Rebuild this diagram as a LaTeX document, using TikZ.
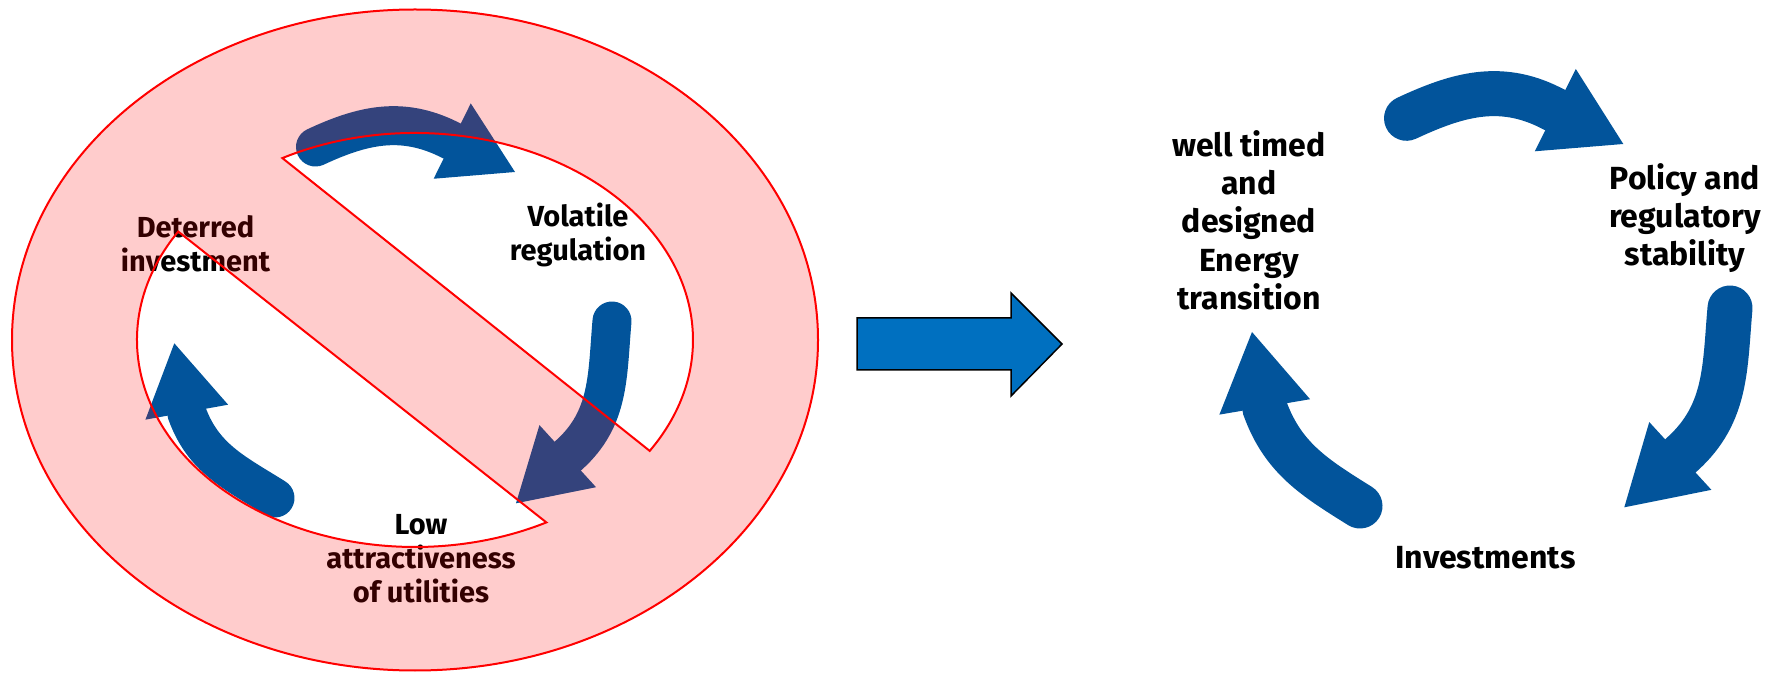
\documentclass[tikz,border=0pt]{standalone}
\usepackage{fontspec}
\setmainfont{Fira Sans}
\usetikzlibrary{arrows.meta}
\definecolor{cycblue}{RGB}{2,84,155}
\definecolor{bigblue}{RGB}{0,112,192}

\begin{document}
\begin{tikzpicture}[x=1pt,y=1pt,line cap=round,
        small/.style={font=\bfseries\fontsize{29}{34}\selectfont,align=center,inner sep=0pt},
        big/.style={font=\bfseries\fontsize{32}{38.3}\selectfont,align=center,inner sep=0pt},
        loopa/.style={color=cycblue,line width=39pt,-{Triangle[length=70pt,width=84pt,line width=0pt]}},
        loopb/.style={color=cycblue,line width=45pt,-{Triangle[length=76pt,width=92pt,line width=0pt]}}]

  \useasboundingbox (0,0) rectangle (1775,675);

  % left: the old cycle
  \node[small] (det) at (195.5,431.7) {Deterred\\investment};
  \node[small] (vol) at (578,440) {Volatile\\regulation};
  \node[small] (low) at (421,116) {Low\\attractiveness\\of utilities};

  \coordinate (d0) at (315.5,528);
  \coordinate (dm) at (448,536);
  \coordinate (d1) at (515,503);
  \coordinate (v0) at (612,354);
  \coordinate (vm) at (569,220);
  \coordinate (v1) at (516,171.7);
  \coordinate (l0) at (275,177);
  \coordinate (lm) at (187,261.5);
  \coordinate (l1) at (174.3,331.7);

  \draw[loopa] (d0) to [out=25,in=154] (dm) -- (d1);
  \draw[loopa] (v0) to [out=-95,in=42] (vm) -- (v1);
  \draw[loopa] (l0) to [out=148,in=-70] (lm) -- (l1);

  % the "no" sign over it
  \path[draw=red,line width=2pt,fill=red,fill opacity=0.2,even odd rule]
    (415,335) ellipse [x radius=403,y radius=330.5]
    (415,335) ++(118.5:278 and 207)
      arc [start angle=118.5,end angle=-32.4,x radius=278,y radius=207] -- cycle
    (415,335) ++(148.4:278 and 207)
      arc [start angle=148.4,end angle=298.2,x radius=278,y radius=207] -- cycle;

  % big arrow
  \draw[fill=bigblue,line width=1.5pt,line join=miter]
    (857,305) -- (1011,305) -- (1011,279) -- (1062,331)
    -- (1011,382) -- (1011,357) -- (857,357) -- cycle;

  % right: the new cycle
  \node[big] (ene) at (1249,455) {well timed\\and\\designed\\Energy\\transition};
  \node[big] (pol) at (1685,457) {Policy and\\regulatory\\stability};
  \node[big] (inv) at (1485.5,117.5) {Investments};

  \coordinate (e0) at (1406.5,556.7);
  \coordinate (em) at (1550,567.5);
  \coordinate (e1) at (1623.3,531);
  \coordinate (p0) at (1730,367);
  \coordinate (pm) at (1683,221.5);
  \coordinate (p1) at (1624.3,167.7);
  \coordinate (i0) at (1360,169);
  \coordinate (im) at (1265,266.5);
  \coordinate (i1) at (1252,343);

  \draw[loopb] (e0) to [out=25,in=153.5] (em) -- (e1);
  \draw[loopb] (p0) to [out=-95,in=42.5] (pm) -- (p1);
  \draw[loopb] (i0) to [out=148,in=-70] (im) -- (i1);

\end{tikzpicture}
\end{document}
